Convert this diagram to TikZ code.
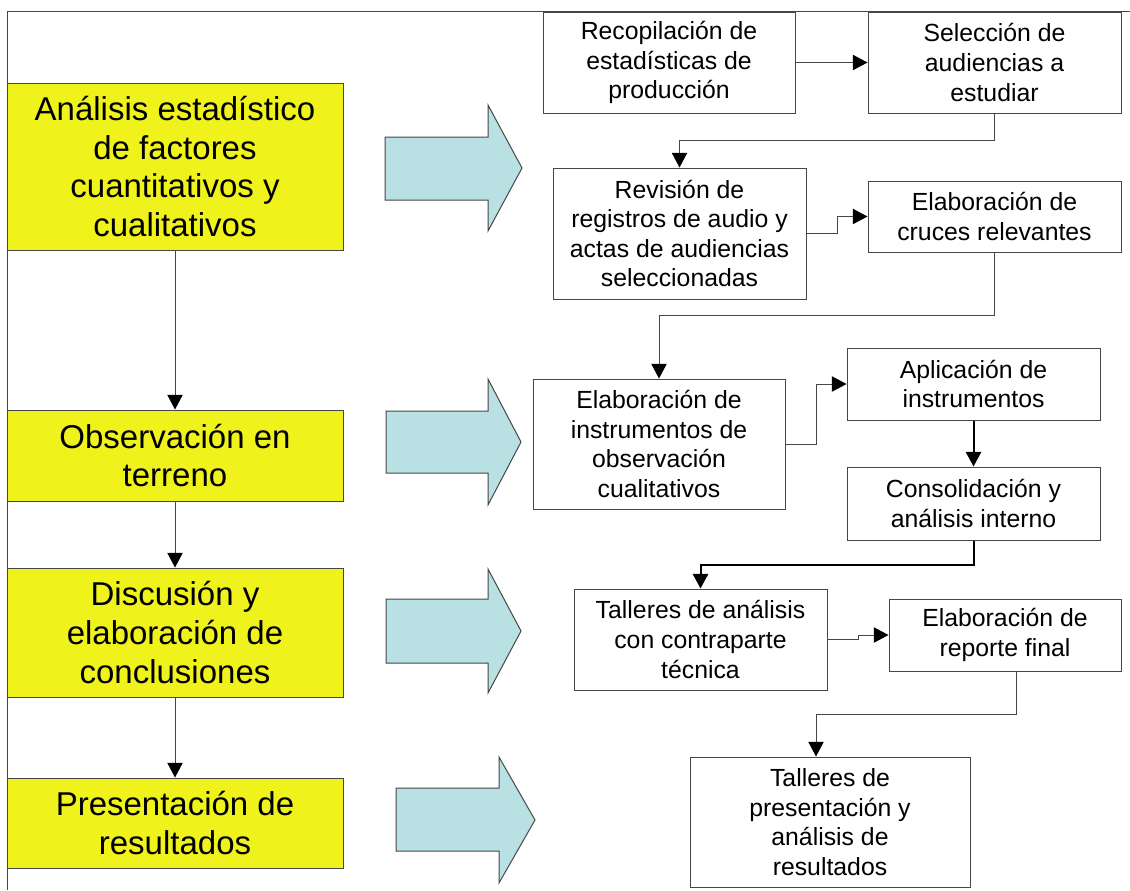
\documentclass[tikz,border=0pt]{standalone}
\usepackage{fontspec}
\setmainfont{Liberation Sans}
\usetikzlibrary{arrows.meta,calc}
\definecolor{yellowfill}{RGB}{240,242,28}
\definecolor{bluefill}{RGB}{185,224,227}
\definecolor{linegray}{RGB}{70,70,70}
\begin{document}
\begin{tikzpicture}[x=0.75pt,y=-0.75pt,
  ybox/.style={draw=linegray, fill=yellowfill, line width=0.75pt, align=center, inner sep=0pt,
    font=\fontsize{24.75pt}{29pt}\selectfont},
  rbox/.style={draw=linegray, fill=white, line width=0.75pt, align=center, inner sep=0pt,
    font=\fontsize{18.6pt}{22.2pt}\selectfont},
  sz/.style 2 args={minimum width=#1*0.75pt, minimum height=#2*0.75pt},
  conn/.style={draw=linegray, line width=0.75pt, -{Triangle[length=11pt,width=11.5pt,color=black,fill=black]}},
  thickconn/.style={draw=black, line width=1.5pt, -{Triangle[length=11pt,width=11.5pt]}},
  bigarrow/.style={draw=linegray, fill=bluefill, line width=0.75pt, line join=miter}]
\useasboundingbox (0,0) rectangle (1130,890);
% frame lines
\coordinate (fl) at (7,11);
\coordinate (fr) at (1130,11);
\coordinate (fb) at (7,890);
\draw[linegray, line width=0.75pt] (fr) -- (fl) -- (fb);

% yellow boxes
\node[ybox, sz={336}{167}] (y1) at (175,166.5) {Análisis estadístico\\de factores\\cuantitativos y\\cualitativos};
\node[ybox, sz={336}{91}] (y2) at (175,455.5) {Observación en\\terreno};
\node[ybox, sz={336}{129}] (y3) at (175,632.5) {Discusión y\\elaboración de\\conclusiones};
\node[ybox, sz={336}{90}] (y4) at (175,823) {Presentación de\\resultados};

\draw[conn] (y1.south) -- (y2.north);
\draw[conn] (y2.south) -- (y3.north);
\draw[conn] (y3.south) -- (y4.north);

% big blue arrows
\draw[bigarrow] (385,137) -- (488,137) -- (488,105) -- (522,168) -- (488,231) -- (488,200) -- (385,200) -- cycle;
\draw[bigarrow] (386,411) -- (488,411) -- (488,379) -- (521,442) -- (488,505) -- (488,473) -- (386,473) -- cycle;
\draw[bigarrow] (386,599) -- (488,599) -- (488,569) -- (521,631) -- (488,693) -- (488,663) -- (386,663) -- cycle;
\draw[bigarrow] (396,788) -- (499,788) -- (499,757) -- (535,820) -- (499,883) -- (499,851) -- (396,851) -- cycle;

% right-hand boxes
\node[rbox, sz={252}{101}] (b1) at (669,62.5) {Recopilación de\\estadísticas de\\producción};
\node[rbox, sz={253}{101}] (b2) at (994.5,62.5) {Selección de\\audiencias a\\estudiar};
\node[rbox, sz={253}{131}] (b3) at (679.5,233.5) {Revisión de\\registros de audio y\\actas de audiencias\\seleccionadas};
\node[rbox, sz={253}{71}] (b4) at (994.5,216.5) {Elaboración de\\cruces relevantes};
\node[rbox, sz={252}{130}] (b5) at (659,444) {Elaboración de\\instrumentos de\\observación\\cualitativos};
\node[rbox, sz={253}{72}] (b6) at (973.5,384) {Aplicación de\\instrumentos};
\node[rbox, sz={253}{73}] (b7) at (973.5,503.5) {Consolidación y\\análisis interno};
\node[rbox, sz={253}{101}] (b8) at (700.5,639.5) {Talleres de análisis\\con contraparte\\técnica};
\node[rbox, sz={232}{72}] (b9) at (1005,635) {Elaboración de\\reporte final};
\node[rbox, sz={280}{130}] (b10) at (830,822) {Talleres de\\presentación y\\análisis de\\resultados};

% connectors
\draw[conn] (b1.east) -- (b2.west);
\draw[conn] (b2.south) -- ++(0,27) -| (b3.north);
\draw[conn] (b3.east) -- ++(31,0) |- (b4.west);
\draw[conn] (b4.south) -- ++(0,63) -| (b5.north);
\draw[conn] (b5.east) -- ++(31,0) |- (b6.west);
\draw[thickconn] (b6.south) -- (b7.north);
\draw[thickconn] (b7.south) -- ++(0,24) -| (b8.north);
\draw[conn] (b8.east) -- ++(31,0) |- (b9.west);
\draw[conn] ([xshift=8.25pt]b9.south) -- ++(0,43) -| ([xshift=-10.5pt]b10.north);
\end{tikzpicture}
\end{document}
